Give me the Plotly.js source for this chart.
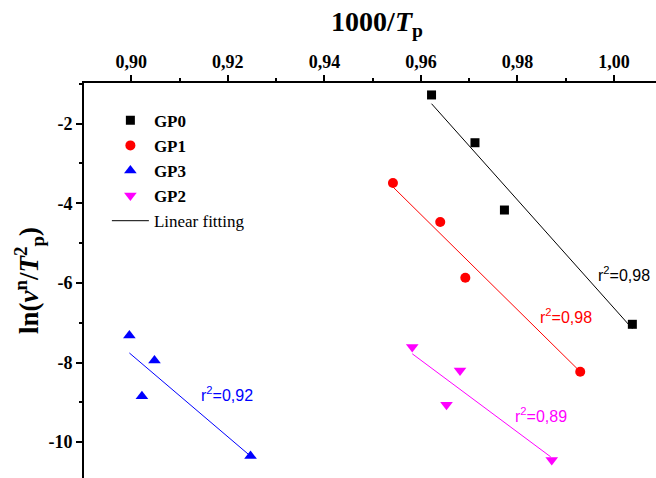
<!DOCTYPE html>
<html>
<head>
<meta charset="utf-8">
<script src="https://cdn.plot.ly/plotly-3.0.1.min.js"></script>
<style>html,body{margin:0;padding:0;background:#fff;}#chart{width:656px;height:478px;}</style>
</head>
<body>
<div id="chart"></div>
<script>
// ---- data ----
const gp0X = [0.9622, 0.9712, 0.9773, 1.0038];
const gp0Y = [-1.28, -2.48, -4.17, -7.04];
const gp1X = [0.9542, 0.9640, 0.9692, 0.9930];
const gp1Y = [-3.49, -4.47, -5.87, -8.23];
const gp3X = [0.8996, 0.9048, 0.9022, 0.9247];
const gp3Y = [-7.32, -7.95, -8.85, -10.35];
const gp2X = [0.9582, 0.9681, 0.9653, 0.9871];
const gp2Y = [-7.61, -8.20, -9.06, -10.45];

// fitted line endpoints
const fit0X = [0.9622, 1.0038], fit0Y = [-1.50, -7.15];
const fit1X = [0.9542, 0.9930], fit1Y = [-3.59, -8.23];
const fit3X = [0.8996, 0.9247], fit3Y = [-7.76, -10.35];
const fit2X = [0.9582, 0.9869], fit2Y = [-7.78, -10.37];

const r2Labels = ["r<sup>2</sup>=0,98", "r<sup>2</sup>=0,98", "r<sup>2</sup>=0,92", "r<sup>2</sup>=0,89"];

const xTickVals = [0.90, 0.92, 0.94, 0.96, 0.98, 1.00];
const xTickText = ["0,90", "0,92", "0,94", "0,96", "0,98", "1,00"];
const yTickVals = [-2, -4, -6, -8, -10];
const yTickText = ["-2", "-4", "-6", "-8", "-10"];

const serif = "Liberation Serif, Times New Roman, serif";
const sans = "Liberation Sans, Arial, sans-serif";

const traces = [
  {x: fit0X, y: fit0Y, mode: "lines", name: "Linear fitting", legendrank: 5, line: {color: "#000000", width: 1}},
  {x: fit1X, y: fit1Y, mode: "lines", showlegend: false, line: {color: "#ff0000", width: 1}},
  {x: fit3X, y: fit3Y, mode: "lines", showlegend: false, line: {color: "#0000ff", width: 1}},
  {x: fit2X, y: fit2Y, mode: "lines", showlegend: false, line: {color: "#ff00ff", width: 1}},
  {x: gp0X, y: gp0Y, mode: "markers", name: "<b>GP0</b>", legendrank: 1, marker: {symbol: "square", size: 9, color: "#000000"}},
  {x: gp1X, y: gp1Y, mode: "markers", name: "<b>GP1</b>", legendrank: 2, marker: {symbol: "circle", size: 10, color: "#ff0000"}},
  {x: gp3X, y: gp3Y, mode: "markers", name: "<b>GP3</b>", legendrank: 3, marker: {symbol: "triangle-up", size: 11, color: "#0000ff"}},
  {x: gp2X, y: gp2Y, mode: "markers", name: "<b>GP2</b>", legendrank: 4, marker: {symbol: "triangle-down", size: 11, color: "#ff00ff"}}
];

const layout = {
  width: 656, height: 478,
  margin: {l: 84, r: 0, t: 83, b: 0},
  paper_bgcolor: "#ffffff", plot_bgcolor: "#ffffff",
  font: {family: serif, color: "#000000"},
  showlegend: true,
  legend: {
    x: 0.04, y: 0.95, xanchor: "left", yanchor: "top",
    traceorder: "normal", itemwidth: 37,
    font: {family: serif, size: 17, color: "#000000"},
    bgcolor: "rgba(0,0,0,0)", borderwidth: 0
  },
  xaxis: {
    side: "top", range: [0.8902, 1.0087],
    showgrid: false, zeroline: false,
    showline: true, linewidth: 2, linecolor: "#000",
    ticks: "outside", ticklen: 6, tickwidth: 2, tickcolor: "#000",
    tickvals: xTickVals, ticktext: xTickText,
    tickfont: {family: serif, size: 18, weight: "bold"},
    minor: {dtick: 0.01, tick0: 0.9, ticks: "outside", ticklen: 3, tickwidth: 2, tickcolor: "#000", showgrid: false},
    title: {text: "&nbsp;&nbsp;1000/<i>T</i><sub>p</sub>", font: {family: serif, size: 28, weight: "bold"}, standoff: 12}
  },
  yaxis: {
    range: [-10.9, -0.98],
    showgrid: false, zeroline: false,
    showline: true, linewidth: 2, linecolor: "#000",
    ticks: "outside", ticklen: 6, tickwidth: 2, tickcolor: "#000",
    tickvals: yTickVals, ticktext: yTickText,
    tickfont: {family: serif, size: 18, weight: "bold"},
    minor: {dtick: 1, tick0: -1, ticks: "outside", ticklen: 3, tickwidth: 2, tickcolor: "#000", showgrid: false},
    title: {text: "ln(<i>ν</i><sup>n</sup>/<i>T</i><sup>2</sup><sub>p</sub>)", font: {family: serif, size: 27, weight: "bold"}, standoff: 2}
  },
  annotations: [
    {x: 1.0021, y: -5.77, text: r2Labels[0], showarrow: false, font: {family: sans, size: 16, color: "#000000"}},
    {x: 0.9901, y: -6.84, text: r2Labels[1], showarrow: false, font: {family: sans, size: 16, color: "#ff0000"}},
    {x: 0.9198, y: -8.80, text: r2Labels[2], showarrow: false, font: {family: sans, size: 16, color: "#0000ff"}},
    {x: 0.9849, y: -9.33, text: r2Labels[3], showarrow: false, font: {family: sans, size: 16, color: "#ff00ff"}}
  ]
};

Plotly.newPlot("chart", traces, layout, {displayModeBar: false, staticPlot: true});
</script>
</body>
</html>
